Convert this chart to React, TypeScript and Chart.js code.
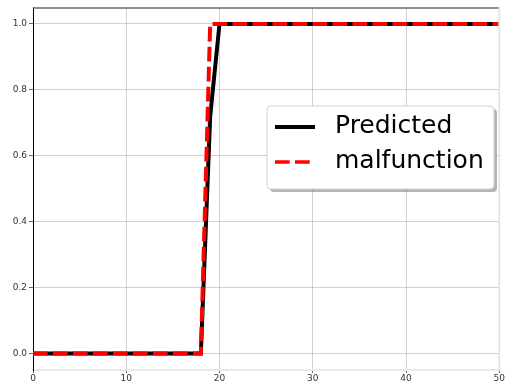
import React, { useEffect, useRef } from "react";
import { Chart, registerables } from "chart.js";

Chart.register(...registerables);

const xValues = [
  0, 1, 2, 3, 4, 5, 6, 7, 8, 9, 10, 11, 12, 13, 14, 15, 16, 17, 18, 19, 20,
  21, 22, 23, 24, 25, 26, 27, 28, 29, 30, 31, 32, 33, 34, 35, 36, 37, 38, 39,
  40, 41, 42, 43, 44, 45, 46, 47, 48, 49, 50,
];
const predicted = [
  0, 0, 0, 0, 0, 0, 0, 0, 0, 0, 0, 0, 0, 0, 0, 0, 0, 0, 0, 0.72, 1,
  1, 1, 1, 1, 1, 1, 1, 1, 1, 1, 1, 1, 1, 1, 1, 1, 1, 1, 1,
  1, 1, 1, 1, 1, 1, 1, 1, 1, 1, 1,
];
const malfunction = [
  0, 0, 0, 0, 0, 0, 0, 0, 0, 0, 0, 0, 0, 0, 0, 0, 0, 0, 0, 1, 1,
  1, 1, 1, 1, 1, 1, 1, 1, 1, 1, 1, 1, 1, 1, 1, 1, 1, 1, 1,
  1, 1, 1, 1, 1, 1, 1, 1, 1, 1, 1,
];
const xTicks = [0, 10, 20, 30, 40, 50];
const yTicks = [0, 0.2, 0.4, 0.6, 0.8, 1.0];
const seriesLabels = ["Predicted", "malfunction"];

const FONT = "'DejaVu Sans', sans-serif";

const framePlugin = {
  id: "frame",
  afterDatasetsDraw(chart: any) {
    const { ctx, chartArea } = chart;
    const { left, right, top, bottom } = chartArea;
    ctx.save();
    // top spine
    ctx.strokeStyle = "#6a6a6a";
    ctx.lineWidth = 1.5;
    ctx.beginPath();
    ctx.moveTo(left, top + 0.5);
    ctx.lineTo(right, top + 0.5);
    ctx.stroke();
    // right spine
    ctx.strokeStyle = "#e6e6e6";
    ctx.lineWidth = 2;
    ctx.beginPath();
    ctx.moveTo(right, top);
    ctx.lineTo(right, bottom);
    ctx.stroke();
    ctx.restore();
  },
};

const legendPlugin = {
  id: "boxLegend",
  afterDraw(chart: any) {
    const { ctx } = chart;
    const ds = chart.data.datasets;
    const x0 = 267, y0 = 106, w = 227, h = 83, r = 4;
    ctx.save();
    const rr = (x: number, y: number) => {
      ctx.beginPath();
      ctx.moveTo(x + r, y);
      ctx.lineTo(x + w - r, y);
      ctx.quadraticCurveTo(x + w, y, x + w, y + r);
      ctx.lineTo(x + w, y + h - r);
      ctx.quadraticCurveTo(x + w, y + h, x + w - r, y + h);
      ctx.lineTo(x + r, y + h);
      ctx.quadraticCurveTo(x, y + h, x, y + h - r);
      ctx.lineTo(x, y + r);
      ctx.quadraticCurveTo(x, y, x + r, y);
      ctx.closePath();
    };
    // shadow
    rr(x0 + 3, y0 + 3);
    ctx.fillStyle = "rgba(120,120,120,0.55)";
    ctx.fill();
    rr(x0, y0);
    ctx.fillStyle = "#ffffff";
    ctx.fill();
    ctx.strokeStyle = "#d0d0d0";
    ctx.lineWidth = 1;
    ctx.stroke();

    const rows = [127, 162];
    ds.forEach((d: any, i: number) => {
      const y = rows[i];
      ctx.beginPath();
      ctx.strokeStyle = d.borderColor;
      ctx.lineWidth = i === 0 ? 4 : 3.5;
      ctx.setLineDash(d.borderDash || []);
      ctx.moveTo(275, y);
      ctx.lineTo(315, y);
      ctx.stroke();
      ctx.setLineDash([]);
      ctx.fillStyle = "#000";
      ctx.font = `25px ${FONT}`;
      ctx.textBaseline = "middle";
      ctx.textAlign = "left";
      ctx.fillText(d.label, 335, y - 1);
    });
    ctx.restore();
  },
};

export default function App() {
  const ref = useRef<HTMLCanvasElement | null>(null);
  useEffect(() => {
    document.body.style.margin = "0";
    if (!ref.current) return;
    const chart = new Chart(ref.current, {
      type: "line",
      data: {
        datasets: [
          {
            label: seriesLabels[0],
            data: xValues.map((x, i) => ({ x, y: predicted[i] })),
            borderColor: "#000000",
            borderWidth: 4,
            pointRadius: 0,
            tension: 0,
            order: 2,
          },
          {
            label: seriesLabels[1],
            data: xValues.map((x, i) => ({ x, y: malfunction[i] })),
            borderColor: "#ff0000",
            borderWidth: 4,
            borderDash: [14.7, 5.3],
            pointRadius: 0,
            tension: 0,
            order: 1,
          },
        ],
      },
      options: {
        animation: false,
        responsive: false,
        layout: { padding: { top: 6, right: 4, left: 0, bottom: 0 } },
        plugins: { legend: { display: false }, tooltip: { enabled: false } },
        scales: {
          x: {
            type: "linear",
            min: 0,
            max: 50,
            afterBuildTicks: (s: any) => {
              s.ticks = xTicks.map((v) => ({ value: v }));
            },
            afterFit: (s: any) => {
              s.height = 17;
            },
            ticks: {
              color: "#333",
              font: { family: FONT, size: 9 },
              padding: 0,
              maxRotation: 0,
              callback: (v: any) => String(v),
            },
            grid: {
              color: "rgba(176,176,176,0.6)",
              lineWidth: 1,
              tickLength: 3,
              tickColor: "#666",
            },
            border: { color: "#e8e8e8", width: 2 },
          },
          y: {
            type: "linear",
            min: -0.05,
            max: 1.05,
            afterBuildTicks: (s: any) => {
              s.ticks = yTicks.map((v) => ({ value: v }));
            },
            afterFit: (s: any) => {
              s.width = 33;
            },
            ticks: {
              color: "#333",
              font: { family: FONT, size: 9 },
              padding: 2,
              callback: (v: any) => Number(v).toFixed(1),
            },
            grid: {
              color: "rgba(176,176,176,0.6)",
              lineWidth: 1,
              tickLength: 4,
              tickColor: "#666",
            },
            border: { color: "#000", width: 1 },
          },
        },
      },
      plugins: [framePlugin, legendPlugin],
    });
    return () => chart.destroy();
  }, []);
  return (
    <div style={{ position: "absolute", left: 0, top: 0, width: 505, height: 387, background: "#fff" }}>
      <canvas ref={ref} width={505} height={387} style={{ width: 505, height: 387 }} />
    </div>
  );
}
